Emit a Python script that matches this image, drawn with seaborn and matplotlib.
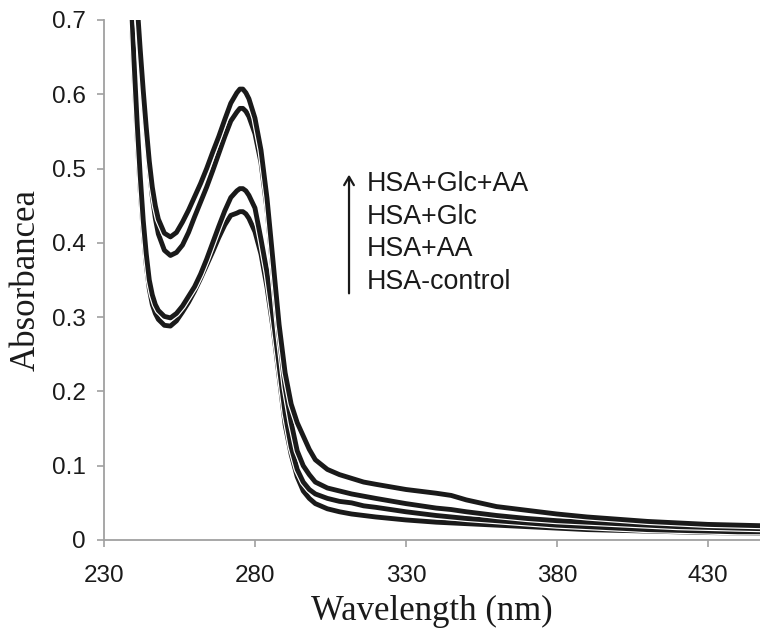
# UV absorption spectra of HSA samples

import pandas as pd
import matplotlib.pyplot as plt
import matplotlib.patheffects as pe
import seaborn as sns

wavelength = [238, 239, 240, 241, 242, 243, 244, 245, 246, 247, 248, 250, 252, 254, 256,
              258, 260, 262, 264, 266, 268, 270, 272, 274, 275, 276, 277, 278, 280, 282,
              284, 286, 288, 290, 292, 294, 296, 298, 300, 304, 308, 312, 316, 320, 330,
              340, 345, 350, 360, 370, 380, 390, 400, 410, 420, 430, 440, 450]

hsa_glc_aa = [0.92, 0.85, 0.78, 0.72, 0.66, 0.605, 0.555, 0.51, 0.475, 0.45, 0.432, 0.413,
              0.408, 0.414, 0.428, 0.444, 0.462, 0.48, 0.50, 0.522, 0.543, 0.566, 0.588,
              0.602, 0.607, 0.607, 0.602, 0.594, 0.568, 0.525, 0.46, 0.375, 0.29, 0.225,
              0.183, 0.158, 0.14, 0.122, 0.108, 0.095, 0.088, 0.083, 0.078, 0.075, 0.068,
              0.063, 0.06, 0.054, 0.045, 0.04, 0.035, 0.031, 0.028, 0.025, 0.023, 0.021,
              0.020, 0.019]

hsa_glc = [0.90, 0.835, 0.77, 0.71, 0.65, 0.595, 0.545, 0.50, 0.462, 0.433, 0.412, 0.39,
           0.383, 0.387, 0.397, 0.414, 0.435, 0.455, 0.475, 0.497, 0.52, 0.543, 0.564,
           0.576, 0.581, 0.581, 0.577, 0.57, 0.547, 0.508, 0.445, 0.36, 0.275, 0.205,
           0.158, 0.12, 0.10, 0.088, 0.078, 0.07, 0.066, 0.062, 0.059, 0.056, 0.049,
           0.043, 0.041, 0.038, 0.033, 0.029, 0.026, 0.024, 0.022, 0.020, 0.018, 0.017,
           0.016, 0.015]

hsa_aa = [0.84, 0.73, 0.64, 0.56, 0.49, 0.43, 0.385, 0.35, 0.33, 0.317, 0.309, 0.301,
          0.299, 0.305, 0.315, 0.328, 0.341, 0.358, 0.378, 0.40, 0.422, 0.443, 0.461,
          0.470, 0.473, 0.473, 0.47, 0.464, 0.447, 0.405, 0.36, 0.30, 0.235, 0.17, 0.125,
          0.095, 0.078, 0.068, 0.062, 0.056, 0.052, 0.05, 0.046, 0.044, 0.038, 0.033,
          0.031, 0.029, 0.026, 0.023, 0.020, 0.018, 0.016, 0.014, 0.013, 0.012, 0.011,
          0.011]

hsa_control = [0.82, 0.71, 0.62, 0.54, 0.47, 0.415, 0.37, 0.338, 0.317, 0.305, 0.297,
               0.289, 0.288, 0.295, 0.307, 0.32, 0.335, 0.352, 0.37, 0.388, 0.407, 0.424,
               0.437, 0.44, 0.442, 0.442, 0.439, 0.433, 0.415, 0.385, 0.34, 0.285, 0.22,
               0.155, 0.115, 0.085, 0.066, 0.056, 0.049, 0.042, 0.038, 0.035, 0.033,
               0.031, 0.027, 0.024, 0.023, 0.022, 0.020, 0.018, 0.016, 0.014, 0.013,
               0.012, 0.011, 0.010, 0.0095, 0.009]

series_names = ["HSA-control", "HSA+AA", "HSA+Glc", "HSA+Glc+AA"]
legend_lines = ["HSA+Glc+AA", "HSA+Glc", "HSA+AA", "HSA-control"]
x_ticks = [230, 280, 330, 380, 430]
y_ticks = [0, 0.1, 0.2, 0.3, 0.4, 0.5, 0.6, 0.7]
y_tick_labels = ["0", "0.1", "0.2", "0.3", "0.4", "0.5", "0.6", "0.7"]

frames = []
for name, vals in zip(series_names, [hsa_control, hsa_aa, hsa_glc, hsa_glc_aa]):
    frames.append(pd.DataFrame({"wl": wavelength, "abs": vals, "sample": name}))
df = pd.concat(frames, ignore_index=True)

sns.set_style("ticks")
plt.rcParams['font.family'] = ['Liberation Sans', 'DejaVu Sans']

fig = plt.figure(figsize=(7.6, 6.38), dpi=100)
ax = fig.add_axes([104 / 760, 98 / 638, 656 / 760, 520 / 638])

sns.lineplot(data=df, x="wl", y="abs", hue="sample", hue_order=series_names,
             palette=["#1a1a1a"] * 4, linewidth=3.5, legend=False, ax=ax,
             estimator=None, sort=False)

# white edge around each curve so the overlaps stay readable
for line in ax.lines:
    line.set_path_effects([pe.Stroke(linewidth=5.2, foreground="white"), pe.Normal()])
    line.set_solid_capstyle("round")
    line.set_solid_joinstyle("round")

ax.set_xlim(230, 447.3)
ax.set_ylim(0, 0.7)
ax.set_xticks(x_ticks)
ax.set_yticks(y_ticks)
ax.set_yticklabels(y_tick_labels)

sns.despine(ax=ax)
for side in ["left", "bottom"]:
    ax.spines[side].set_color("#a0a0a0")
    ax.spines[side].set_linewidth(1.3)
ax.tick_params(axis="both", direction="out", length=5, width=1.2, color="#a0a0a0",
               labelsize=17.5, labelcolor="#1a1a1a")
ax.tick_params(axis="y", pad=8)
ax.tick_params(axis="x", pad=13)

ax.set_xlabel("Wavelength (nm)", family="Liberation Serif", fontsize=25, color="#1a1a1a",
              labelpad=6)
ax.set_ylabel("Absorbancea", family="Liberation Serif", fontsize=25, color="#1a1a1a",
              labelpad=7)

# arrow + stacked labels
ax.annotate("", xy=(0.3735, 0.708), xytext=(0.3735, 0.469), xycoords="axes fraction",
            arrowprops=dict(arrowstyle="->,head_length=0.6,head_width=0.35",
                            color="#1a1a1a", lw=1.6))
for i, txt in enumerate(legend_lines):
    ax.text(0.400, 0.6846 - i * 0.0629, txt, transform=ax.transAxes, fontsize=19.3,
            color="#1a1a1a", va="center", ha="left")

fig.savefig("out.png", dpi=100)
